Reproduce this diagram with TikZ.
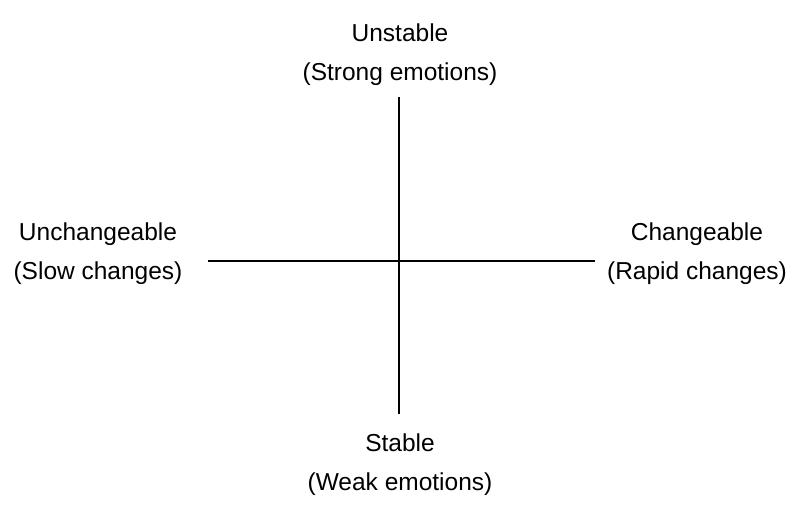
\documentclass[tikz,border=0pt]{standalone}
\usepackage{fontspec}
\setmainfont{Liberation Sans}
\begin{document}
\begin{tikzpicture}[x=1pt,y=-1pt,
  lbl/.style={anchor=base,inner sep=0pt,font=\fontsize{24.5}{29}\selectfont},
  axis/.style={line width=2pt,black}]
\useasboundingbox (0,0) rectangle (808,506);
% axes
\coordinate (top) at (399,97);
\coordinate (bot) at (399,414);
\coordinate (lft) at (207.5,261);
\coordinate (rgt) at (595,261);
\draw[axis] (top) -- (bot);
\draw[axis] (lft) -- (rgt);
% labels
\node[lbl] (u1) at (400,41) {Unstable};
\node[lbl] (u2) at (400,80) {(Strong emotions)};
\node[lbl] (l1) at (98,240) {Unchangeable};
\node[lbl] (l2) at (98,279) {(Slow changes)};
\node[lbl] (r1) at (697,240) {Changeable};
\node[lbl] (r2) at (697,279) {(Rapid changes)};
\node[lbl] (s1) at (400,451) {Stable};
\node[lbl] (s2) at (400,490) {(Weak emotions)};
\end{tikzpicture}
\end{document}
